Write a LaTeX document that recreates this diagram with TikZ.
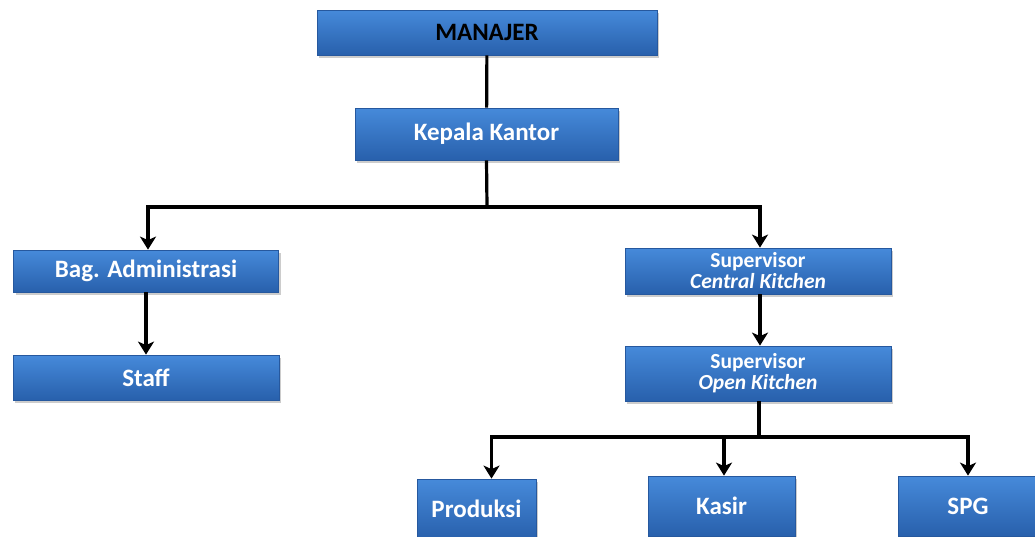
\documentclass[tikz,border=0pt]{standalone}
\usepackage{fontspec}
\setmainfont{Carlito}
\usepackage{tikz}
\usetikzlibrary{arrows.meta,positioning,shadows}
\tikzset{
  box/.style={rectangle,draw={rgb,255:red,38;green,88;blue,158},line width=0.8pt,
    top color={rgb,255:red,70;green,138;blue,218},bottom color={rgb,255:red,40;green,96;blue,172},
    drop shadow={opacity=0.4,shadow xshift=2pt,shadow yshift=-2.5pt},
    text=white,font=\fontsize{25}{27}\selectfont\bfseries,align=center,inner sep=0pt},
  sbox/.style={box,font=\fontsize{21.5}{21}\selectfont\bfseries},
}

\begin{document}
\begin{tikzpicture}[x=1pt,y=-1pt,
  ln/.style={line width=3.2pt,black},
  ar/.style={ln,-{Stealth[length=13pt,width=16pt,inset=3.5pt]}}]
  \clip (0,0) rectangle (1035,536);
  \fill[white] (0,0) rectangle (1035,536);
  % top of the chart
  \node[box,text=black,minimum width=340pt,minimum height=45pt] (man) at (487,32.5) {MANAJER};
  \node[box,minimum width=263pt,minimum height=52pt] (kk) at (486.5,134) {Kepala Kantor};
  % left branch
  \node[box,minimum width=265pt,minimum height=42pt] (adm) at (146,271) {Bag. Administrasi};
  \node[box,minimum width=266pt,minimum height=45pt] (staff) at (146,377.5) {Staff};
  % right branch
  \node[sbox,minimum width=266pt,minimum height=46pt] (sck) at (758,271) {Supervisor\\ \textit{Central Kitchen}};
  \node[sbox,minimum width=266pt,minimum height=55pt] (sok) at (758,373.5) {Supervisor\\ \textit{Open Kitchen}};
  % bottom row
  \node[box,minimum width=119pt,minimum height=60pt] (prod) at (476.5,509) {Produksi};
  \node[box,minimum width=147pt,minimum height=60pt] (kasir) at (721.5,506) {Kasir};
  \node[box,minimum width=140pt,minimum height=60pt] (spg) at (968,506) {SPG};
  \coordinate (j1) at (487,207);
  \coordinate (j2) at (759,437);
  \draw[ln] (man) -- (kk);
  \draw[ln] (kk.south) -- (j1);
  \draw[ar] (j1) -| ([xshift=2pt]adm.north);
  \draw[ar] (j1) -| ([xshift=2pt]sck.north);
  \draw[ar] (adm) -- (staff);
  \draw[ar] ([xshift=2pt]sck.south) -- ([xshift=2pt]sok.north);
  \draw[ln] ([xshift=1pt]sok.south) -- (j2);
  \draw[ar] (j2) -| ([xshift=15pt]prod.north);
  \draw[ar] (j2) -| ([xshift=2.5pt]kasir.north);
  \draw[ar] (j2) -| (spg.north);
\end{tikzpicture}
\end{document}
